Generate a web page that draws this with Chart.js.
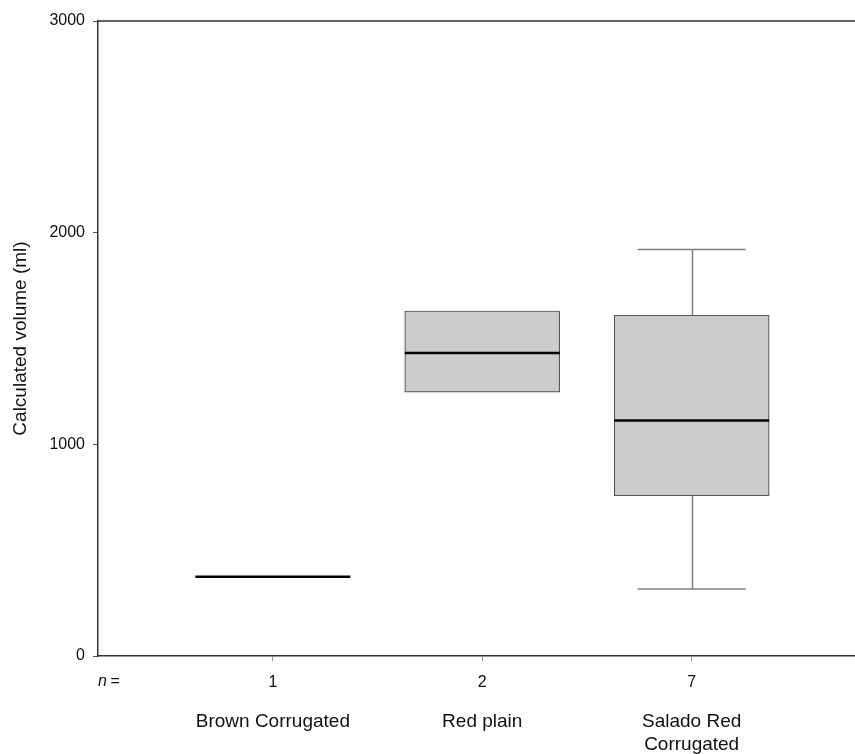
<!DOCTYPE html>
<html>
<head>
<meta charset="utf-8">
<script src="https://cdn.jsdelivr.net/npm/chart.js@4.4.1/dist/chart.umd.min.js"></script>
<style>
  html, body { margin: 0; padding: 0; background: #fff; }
  #wrap { width: 855px; height: 754px; }
</style>
</head>
<body>
<div id="wrap"><canvas id="chart" width="855" height="754"></canvas></div>
<script>
// box plot data
const categories = ['Brown Corrugated', 'Red plain', 'Salado Red Corrugated'];
const nameLines = [['Brown Corrugated'], ['Red plain'], ['Salado Red', 'Corrugated']];
const nCounts = ['1', '2', '7'];
const whiskerMin = [null, null, 317];
const q1 = [null, 1247, 757];
const median = [375, 1432, 1113];
const q3 = [null, 1630, 1610];
const whiskerMax = [null, null, 1921];
const yTicks = [0, 1000, 2000, 3000];

const FONT = '"Liberation Sans", Arial, Helvetica, sans-serif';
const BOX_HALF = 0.37;   // in x units
const CAP_HALF = 0.258;

const boxPlugin = {
  id: 'boxExtras',
  afterDatasetsDraw(chart) {
    const { ctx, scales: { x, y }, chartArea } = chart;
    ctx.save();
    // whiskers
    ctx.strokeStyle = '#808080';
    ctx.lineWidth = 1.5;
    categories.forEach((c, i) => {
      if (whiskerMax[i] == null) return;
      const cx = Math.round(x.getPixelForValue(i + 1)) + 0.5;
      const l = x.getPixelForValue(i + 1 - CAP_HALF);
      const r = x.getPixelForValue(i + 1 + CAP_HALF);
      const yMax = y.getPixelForValue(whiskerMax[i]);
      const yMin = y.getPixelForValue(whiskerMin[i]);
      ctx.beginPath();
      ctx.moveTo(cx, y.getPixelForValue(q3[i]));
      ctx.lineTo(cx, yMax);
      ctx.moveTo(l, yMax);
      ctx.lineTo(r, yMax);
      ctx.moveTo(cx, y.getPixelForValue(q1[i]));
      ctx.lineTo(cx, yMin);
      ctx.moveTo(l, yMin);
      ctx.lineTo(r, yMin);
      ctx.stroke();
    });
    // medians
    ctx.strokeStyle = '#000';
    ctx.lineWidth = 2.5;
    median.forEach((m, i) => {
      const ym = y.getPixelForValue(m);
      ctx.beginPath();
      ctx.moveTo(x.getPixelForValue(i + 1 - BOX_HALF), ym);
      ctx.lineTo(x.getPixelForValue(i + 1 + BOX_HALF), ym);
      ctx.stroke();
    });
    // top frame line
    ctx.strokeStyle = '#333';
    ctx.lineWidth = 1.5;
    ctx.beginPath();
    ctx.moveTo(chartArea.left, chartArea.top);
    ctx.lineTo(chartArea.right, chartArea.top);
    ctx.stroke();
    // n = and category names
    ctx.fillStyle = '#111';
    ctx.textBaseline = 'middle';
    ctx.textAlign = 'left';
    ctx.font = 'italic 16px ' + FONT;
    ctx.fillText('n', chartArea.left, 682);
    ctx.font = '16px ' + FONT;
    ctx.fillText(' =', chartArea.left + 8, 682);
    ctx.textAlign = 'center';
    ctx.font = '19px ' + FONT;
    nameLines.forEach((lines, i) => {
      const cx = x.getPixelForValue(i + 1);
      lines.forEach((t, j) => ctx.fillText(t, cx, 722 + j * 23));
    });
    ctx.restore();
  }
};

new Chart(document.getElementById('chart'), {
  type: 'bar',
  data: {
    datasets: [{
      data: categories.map((c, i) => ({ x: i + 1, y: q1[i] == null ? null : [q1[i], q3[i]] })),
      backgroundColor: '#cccccc',
      borderColor: '#555',
      borderWidth: 1.2,
      borderSkipped: false,
      barThickness: 155
    }]
  },
  options: {
    responsive: false,
    animation: false,
    layout: { padding: { top: 21, right: 0, bottom: 0, left: 0 } },
    plugins: { legend: { display: false }, tooltip: { enabled: false } },
    scales: {
      x: {
        type: 'linear',
        offset: false,
        min: 0.165,
        max: 3.78,
        afterBuildTicks: (s) => { s.ticks = categories.map((c, i) => ({ value: i + 1 })); },
        afterFit: (s) => { s.height = 98; },
        grid: { drawOnChartArea: false, offset: false, tickLength: 5, color: '#999' },
        border: { color: '#333', width: 1.5 },
        ticks: {
          callback: (v, i) => nCounts[i],
          font: { family: FONT, size: 16 },
          color: '#111',
          padding: 12,
          maxRotation: 0,
          autoSkip: false
        }
      },
      y: {
        min: 0,
        max: 3000,
        afterBuildTicks: (s) => { s.ticks = yTicks.map(v => ({ value: v })); },
        afterFit: (s) => { s.width = 98; },
        grid: { drawOnChartArea: false, tickLength: 5, color: '#555' },
        border: { color: '#333', width: 1.5 },
        ticks: {
          callback: (v) => String(v),
          font: { family: FONT, size: 16 },
          color: '#111',
          padding: 8
        },
        title: {
          display: true,
          text: 'Calculated volume (ml)',
          font: { family: FONT, size: 19 },
          color: '#111',
          padding: { top: 9, bottom: 0 }
        }
      }
    }
  },
  plugins: [boxPlugin]
});
</script>
</body>
</html>
